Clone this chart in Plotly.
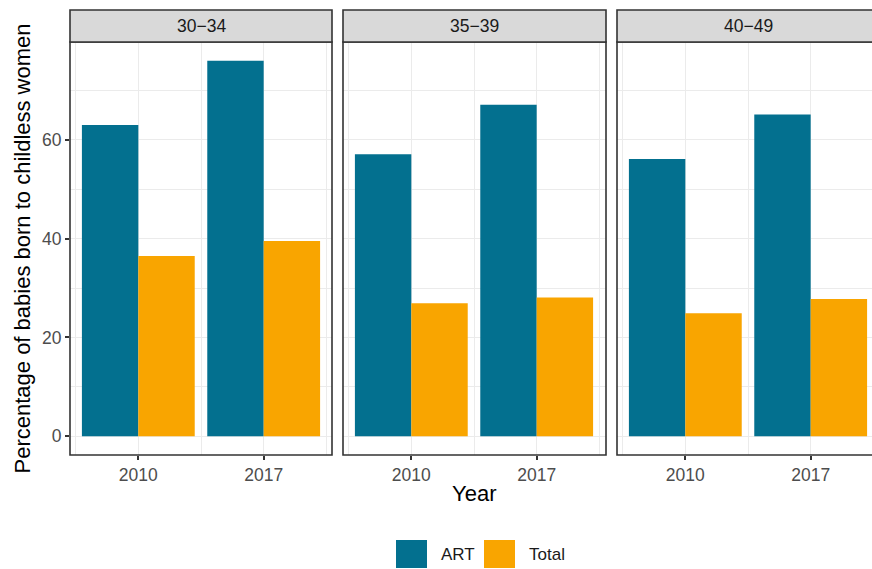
import plotly.graph_objects as go

# ---- data ----
age_groups = ["30−34", "35−39", "40−49"]
years = ["2010", "2017"]
art_values = [[63.0, 76.0], [57.1, 67.1], [56.1, 65.1]]
total_values = [[36.5, 39.5], [26.9, 28.1], [24.9, 27.8]]
series_names = ["ART", "Total"]
series_colors = ["#03708F", "#F9A500"]
y_ticks = [0, 20, 40, 60]

W, H = 872, 569
def px(x):
    return x / W
def py(y):
    return (H - y) / H

FONT = "Liberation Sans, Arial, Helvetica, sans-serif"
GRID = "#EBEBEB"
BORDER = "#333333"

panel_px = [(70, 332), (343, 606), (617, 879)]
top_px, bot_px = 42, 455
strip_top = 10

xpos = list(range(1, len(years) + 1))
full_range = [0.455, 2.545]
unit_px = (panel_px[0][1] - panel_px[0][0]) / (full_range[1] - full_range[0])

fig = go.Figure()
layout = {}
shapes = []
annotations = []

for i, grp in enumerate(age_groups):
    sfx = "" if i == 0 else str(i + 1)
    xa, ya = "x" + sfx, "y" + sfx
    for name, vals, col in zip(series_names, [art_values[i], total_values[i]], series_colors):
        fig.add_trace(go.Bar(x=xpos, y=vals, name=name, marker=dict(color=col, line=dict(width=0)),
                             xaxis=xa, yaxis=ya, showlegend=False, offsetgroup=name))
    x0, x1 = panel_px[i]
    dom_x1 = min(x1, W)
    rng = [full_range[0], full_range[0] + (dom_x1 - x0) / unit_px]
    layout["xaxis" + sfx] = dict(
        domain=[px(x0), min(1.0, px(dom_x1))], range=rng, anchor=ya,
        tickvals=xpos, ticktext=years, ticks="outside", ticklen=4, tickwidth=1.5,
        tickcolor=BORDER, tickfont=dict(family=FONT, size=17.5, color="#4D4D4D"),
        showgrid=True, gridcolor=GRID, gridwidth=1.1, zeroline=False, showline=False,
        minor=dict(tickvals=[0.5, 1.5, 2.5], showgrid=True, gridcolor=GRID, gridwidth=0.6, ticks=""),
    )
    layout["yaxis" + sfx] = dict(
        domain=[py(bot_px), py(top_px)], range=[-3.8, 79.8], anchor=xa,
        tickvals=y_ticks, ticks="outside" if i == 0 else "", ticklen=4, tickwidth=1.5,
        tickcolor=BORDER, showticklabels=(i == 0),
        tickfont=dict(family=FONT, size=17.5, color="#4D4D4D"),
        showgrid=True, gridcolor=GRID, gridwidth=1.1, zeroline=False, showline=False,
        minor=dict(tickmode="linear", tick0=10, dtick=20, showgrid=True, gridcolor=GRID, gridwidth=0.6, ticks=""),
    )
    # panel border
    shapes.append(dict(type="rect", xref="paper", yref="paper", x0=px(x0), x1=px(x1),
                       y0=py(bot_px), y1=py(top_px), line=dict(color=BORDER, width=1.6),
                       fillcolor="rgba(0,0,0,0)", layer="above"))
    # strip
    shapes.append(dict(type="rect", xref="paper", yref="paper", x0=px(x0), x1=px(x1),
                       y0=py(top_px), y1=py(strip_top), line=dict(color=BORDER, width=1.6),
                       fillcolor="#D9D9D9", layer="above"))
    annotations.append(dict(text=grp, xref="paper", yref="paper",
                            x=px((x0 + x1) / 2), y=py((top_px + strip_top) / 2),
                            showarrow=False, xanchor="center", yanchor="middle",
                            font=dict(family=FONT, size=17.5, color="#1A1A1A")))

# axis titles
annotations.append(dict(text="Percentage of babies born to childless women", xref="paper", yref="paper",
                        x=px(22), y=py((top_px + bot_px) / 2), textangle=-90, showarrow=False,
                        xanchor="center", yanchor="middle", font=dict(family=FONT, size=22, color="black")))
annotations.append(dict(text="Year", xref="paper", yref="paper",
                        x=px(474), y=py(493), showarrow=False,
                        xanchor="center", yanchor="middle", font=dict(family=FONT, size=22, color="black")))

# manual legend
legend_keys = [(396, 427, 439), (484, 515, 527)]
for (k0, k1, tx), name, col in zip(legend_keys, series_names, series_colors):
    shapes.append(dict(type="rect", xref="paper", yref="paper", x0=px(k0), x1=px(k1),
                       y0=py(568), y1=py(540), line=dict(width=0), fillcolor=col))
    annotations.append(dict(text=name, xref="paper", yref="paper", x=px(tx), y=py(554),
                            showarrow=False, xanchor="left", yanchor="middle",
                            font=dict(family=FONT, size=17, color="#1A1A1A")))

fig.update_layout(
    width=W, height=H, margin=dict(l=0, r=0, t=0, b=0),
    paper_bgcolor="white", plot_bgcolor="white",
    barmode="group", bargap=0.1, bargroupgap=0,
    shapes=shapes, annotations=annotations, showlegend=False,
    **layout,
)

fig.write_html("out.html", config={"displayModeBar": False},
               post_script="document.body.style.margin='0';document.body.style.overflow='hidden';")
